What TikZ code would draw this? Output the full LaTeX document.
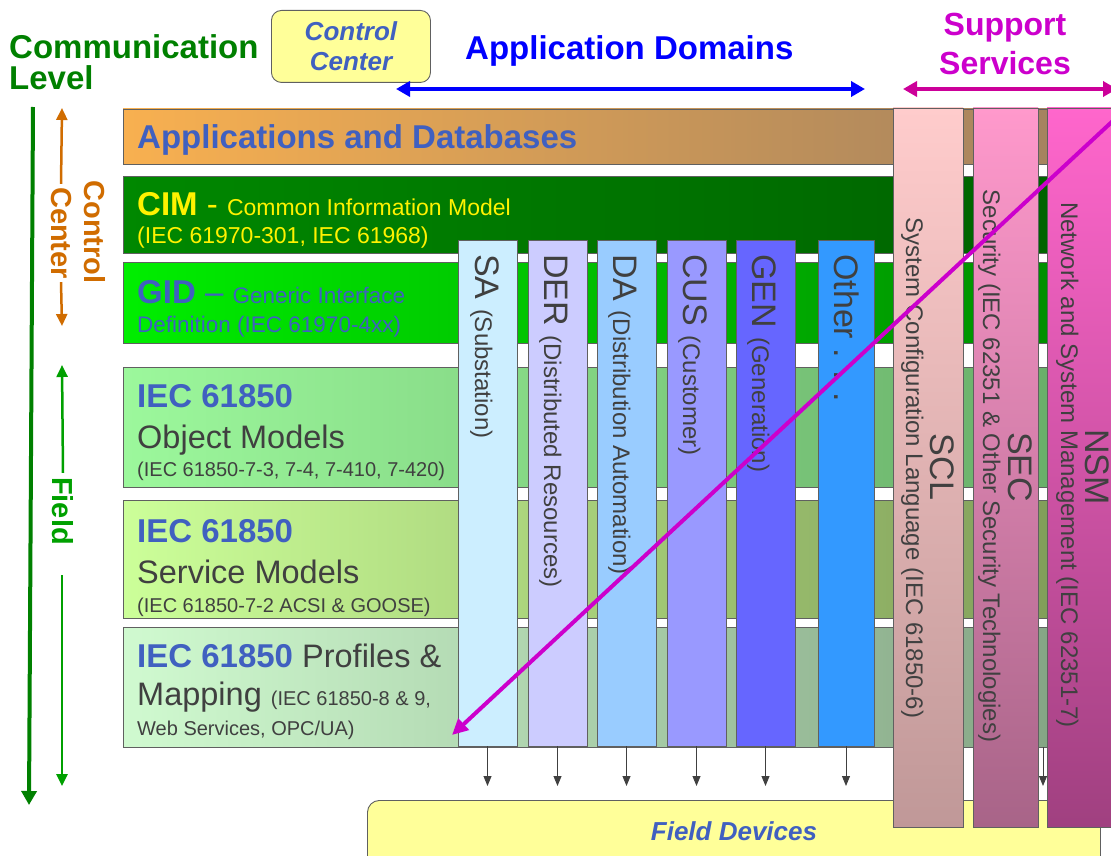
\documentclass[tikz,border=0pt]{standalone}
\usepackage{fontspec}
\setmainfont{Liberation Sans}
\usetikzlibrary{arrows.meta}
\newcommand\fsz[1]{\fontsize{#1}{#1}\selectfont}
\definecolor{bordergray}{HTML}{606060}
\definecolor{blueT}{HTML}{4060C0}
\definecolor{darkT}{HTML}{404040}
\definecolor{grnT}{HTML}{008000}
\definecolor{orT}{HTML}{D06C00}
\definecolor{fieldT}{HTML}{00A000}
\definecolor{fdyellow}{HTML}{FFFF99}
\definecolor{appL}{HTML}{F8B050}
\definecolor{appR}{HTML}{A08060}
\definecolor{cimL}{HTML}{008800}
\definecolor{cimR}{HTML}{006000}
\definecolor{gidL}{HTML}{00EE00}
\definecolor{gidR}{HTML}{008800}
\definecolor{objL}{HTML}{9CF89C}
\definecolor{objR}{HTML}{66AA66}
\definecolor{svcL}{HTML}{CCFF99}
\definecolor{svcR}{HTML}{7C9855}
\definecolor{prfL}{HTML}{D0FAD0}
\definecolor{prfR}{HTML}{80A080}
\definecolor{saC}{HTML}{CCEEFF}
\definecolor{derC}{HTML}{CCCCFF}
\definecolor{daC}{HTML}{99CCFF}
\definecolor{cusC}{HTML}{9999FF}
\definecolor{genC}{HTML}{6666FF}
\definecolor{othC}{HTML}{3399FF}
\definecolor{sclT}{HTML}{FFCCCC}
\definecolor{sclB}{HTML}{C09898}
\definecolor{secT}{HTML}{FF99CC}
\definecolor{secB}{HTML}{A86488}
\definecolor{nsmT}{HTML}{FF66CC}
\definecolor{nsmB}{HTML}{A04080}
\definecolor{magC}{HTML}{CC00CC}
\definecolor{magA}{HTML}{CC0099}
\definecolor{blueA}{HTML}{0000FF}
\definecolor{arrowgray}{HTML}{404040}
\begin{document}
\begin{tikzpicture}[x=1pt,y=-1pt,
  band/.style={draw=bordergray, line width=0.8pt, minimum width=988pt, anchor=north west, inner sep=0pt, outer sep=0pt},
  appbar/.style={draw=bordergray, line width=0.8pt, minimum width=59pt, minimum height=506pt, anchor=north west, inner sep=0pt, outer sep=0pt},
  supbar/.style={draw=bordergray, line width=0.8pt, minimum height=719pt, anchor=north west, inner sep=0pt, outer sep=0pt},
  vtext/.style={rotate=-90, inner sep=0pt, text=darkT},
  lbl/.style={anchor=base west, inner sep=0pt},
  downarr/.style={draw=arrowgray, line width=0.9pt, -{Triangle[length=10pt,width=8pt]}, shorten >=14pt},
  yellowbox/.style={draw=bordergray, line width=0.9pt, fill=fdyellow},
  bigarr/.style={line width=4pt, -{Triangle[length=14pt,width=15pt]}},
  sidearr/.style={line width=2.5pt, -{Triangle[length=12pt,width=11pt]}},
]
\useasboundingbox (0,0) rectangle (1111,856);
\clip (0,0) rectangle (1111,856);

% horizontal bands
\node[band, minimum height=55pt, left color=appL, right color=appR] (apps) at (123,109) {};
\node[band, minimum height=77pt, left color=cimL, right color=cimR] (cim) at (123,176) {};
\node[band, minimum height=81pt, left color=gidL, right color=gidR] (gid) at (123,262) {};
\node[band, minimum height=120pt, left color=objL, right color=objR] (obj) at (123,367) {};
\node[band, minimum height=118pt, left color=svcL, right color=svcR] (svc) at (123,500) {};
\node[band, minimum height=120pt, left color=prfL, right color=prfR] (prf) at (123,627) {};

% band texts
\node[lbl, text=blueT, font=\bfseries\fsz{33}] (appsT) at (137,149) {Applications and Databases};
\node[lbl, text=yellow] (cimT1) at (137,215) {\bfseries\fsz{33}CIM\mdseries\ -\ \fsz{23}Common Information Model};
\node[lbl, text=yellow, font=\fsz{23}] (cimT2) at (137,243) {(IEC 61970-301, IEC 61968)};
\node[lbl, text=blueT] (gidT1) at (137,303) {\bfseries\fsz{33}GID\mdseries\ –\ \fsz{22.5}Generic Interface};
\node[lbl, text=blueT, font=\fsz{22.5}] (gidT2) at (137,332) {Definition (IEC 61970-4xx)};
\node[lbl, text=blueT, font=\bfseries\fsz{33}] (objT1) at (137,407) {IEC 61850};
\node[lbl, text=darkT, font=\fsz{32.5}] (objT2) at (137,448) {Object Models};
\node[lbl, text=darkT, font=\fsz{20}] (objT3) at (137,476) {(IEC 61850-7-3, 7-4, 7-410, 7-420)};
\node[lbl, text=blueT, font=\bfseries\fsz{33}] (svcT1) at (137,542) {IEC 61850};
\node[lbl, text=darkT, font=\fsz{32.5}] (svcT2) at (137,583) {Service Models};
\node[lbl, text=darkT, font=\fsz{20}] (svcT3) at (137,612) {(IEC 61850-7-2 ACSI \& GOOSE)};
\node[lbl, text=darkT] (prfT1) at (137,667) {\fsz{32.5}\textcolor{blueT}{\bfseries\fsz{33}IEC 61850} Profiles \&};
\node[lbl, text=darkT] (prfT2) at (137,705) {\fsz{32.5}Mapping \fsz{20}(IEC 61850-8 \& 9,};
\node[lbl, text=darkT, font=\fsz{20}] (prfT3) at (137,735) {Web Services, OPC/UA)};

% application domain bars
\node[appbar, fill=saC] (sa) at (458,240) {};
\node[appbar, fill=derC] (der) at (528,240) {};
\node[appbar, fill=daC] (da) at (597,240) {};
\node[appbar, fill=cusC] (cus) at (667,240) {};
\node[appbar, fill=genC] (gen) at (736,240) {};
\node[appbar, fill=othC, minimum width=56pt] (oth) at (818,240) {};

\node[vtext, anchor=base west] (saT) at (475,254) {\fsz{34}SA \fsz{24}(Substation)};
\node[vtext, anchor=base west] (derT) at (544,254) {\fsz{34}DER \fsz{24}(Distributed Resources)};
\node[vtext, anchor=base west] (daT) at (613,254) {\fsz{34}DA \fsz{24}(Distribution Automation)};
\node[vtext, anchor=base west] (cusT) at (683,254) {\fsz{34}CUS \fsz{24}(Customer)};
\node[vtext, anchor=base west] (genT) at (752,254) {\fsz{34}GEN \fsz{24}(Generation)};
\node[vtext, anchor=base west] (othT) at (834,254) {\fsz{34}Other . . .};

% field devices
\node[yellowbox, rounded corners=12pt, minimum width=733pt, minimum height=90pt, anchor=north west] (fd) at (367,800) {};
\node[text=blueT, font=\bfseries\itshape\fsz{26}] (fdT) at (734,831) {Field Devices};

\foreach \b in {sa,der,da,cus,gen,oth}
  \draw[downarr] (\b.south) -- (\b.south |- fd.north);
\coordinate (hid) at (1043,747);
\draw[downarr] (hid) -- (hid |- fd.north);

% support service bars
\node[supbar, minimum width=70pt, top color=sclT, bottom color=sclB] (scl) at (893,108) {};
\node[supbar, minimum width=65pt, top color=secT, bottom color=secB] (sec) at (973,108) {};
\node[supbar, minimum width=80pt, top color=nsmT, bottom color=nsmB] (nsm) at (1047,108) {};

\node[vtext, anchor=base] (sclA) at (930,467) {\fsz{34}SCL};
\node[vtext, anchor=base] (sclB) at (906,468) {\fsz{24}System Configuration Language (IEC 61850-6)};
\node[vtext, anchor=base] (secA) at (1008,467) {\fsz{34}SEC};
\node[vtext, anchor=base] (secB) at (983,466) {\fsz{24}Security (IEC 62351 \& Other Security Technologies)};
\node[vtext, anchor=base] (nsmA) at (1085,467) {\fsz{34}NSM};
\node[vtext, anchor=base] (nsmB) at (1061,465) {\fsz{24}Network and System Management (IEC 62351-7)};

% diagonal arrow
\coordinate (diagS) at (1130,105);
\coordinate (diagE) at (452,735);
\draw[magC, line width=4pt, -{Triangle[length=16pt,width=15pt]}] (diagS) -- (diagE);

% top labels
\node[lbl, text=grnT, font=\bfseries\fsz{33}] (comm1) at (9,59) {Communication};
\node[lbl, text=grnT, font=\bfseries\fsz{33}] (comm2) at (9,90) {Level};
\node[yellowbox, rounded corners=10pt, minimum width=159pt, minimum height=72pt, anchor=north west, align=center, text=blueT, font=\bfseries\itshape\fontsize{26}{30}\selectfont] (cc) at (271,10) {Control\\Center};
\node[lbl, text=blueA, font=\bfseries\fsz{33}] (adT) at (465,60) {Application Domains};
\node[text=magC, font=\bfseries\fsz{32}, anchor=base, inner sep=0pt] (ss1) at (1005,36) {Support};
\node[text=magC, font=\bfseries\fsz{32}, anchor=base, inner sep=0pt] (ss2) at (1005,75) {Services};

\coordinate (adL) at (396,89);
\coordinate (adR) at (865,89);
\draw[blueA, line width=4pt, {Triangle[length=14pt,width=15pt]}-{Triangle[length=14pt,width=15pt]}] (adL) -- (adR);
\coordinate (ssL) at (903,89);
\coordinate (ssR) at (1117,89);
\draw[magA, line width=4pt, {Triangle[length=14pt,width=15pt]}-{Triangle[length=14pt,width=15pt]}] (ssL) -- (ssR);

% left axis
\coordinate (axTop) at (33,107);
\coordinate (axBot) at (29,805);
\draw[grnT, bigarr] (axTop) -- (axBot);

\node[rotate=-90, text=orT, font=\bfseries\fsz{29}, inner sep=0pt] (ctlA) at (95,232) {Control};
\node[rotate=-90, text=orT, font=\bfseries\fsz{29}, inner sep=3pt] (ctlB) at (61,233) {Center};
\coordinate (ctlTop) at (62,108);
\coordinate (ctlBot) at (62,326);
\draw[orT, sidearr] (ctlB.west) -- (ctlTop);
\draw[orT, sidearr] (ctlB.east) -- (ctlBot);

\node[rotate=-90, text=fieldT, font=\bfseries\fsz{29}, inner sep=4pt] (fldT) at (63,511) {Field};
\coordinate (fldTop) at (62,365);
\coordinate (fldBot) at (62,786);
\coordinate (fldLow) at (62,575);
\draw[fieldT, sidearr] (fldT.west) -- (fldTop);
\draw[fieldT, sidearr] (fldLow) -- (fldBot);
\end{tikzpicture}
\end{document}
